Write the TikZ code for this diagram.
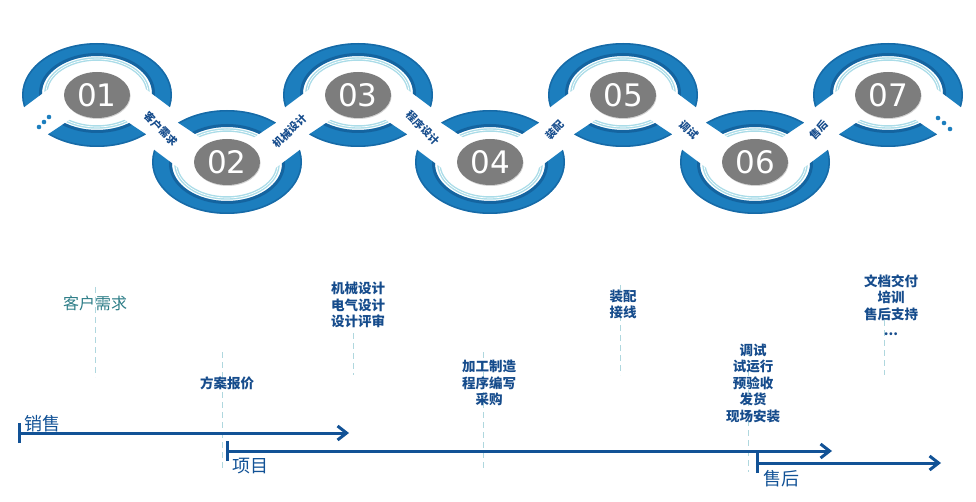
\documentclass[tikz,border=0pt]{standalone}
\usepackage{fontspec}
\setmainfont{DejaVu Sans}
\newfontfamily\cjk{Noto Sans CJK SC}
\newfontfamily\numfont{DejaVu Sans}
\usetikzlibrary{arrows.meta,shapes.geometric,shadows}
\definecolor{ringblue}{RGB}{28,126,190}
\definecolor{ringdark}{RGB}{12,70,125}
\definecolor{ringcyan}{RGB}{170,220,232}
\definecolor{numgray}{RGB}{125,125,125}
\definecolor{labelblue}{RGB}{22,76,140}
\definecolor{lineblue}{RGB}{18,82,150}
\definecolor{guidecol}{RGB}{175,215,222}
\definecolor{reqteal}{RGB}{45,125,135}
\newcommand{\ringpiece}{%
  \fill[ringblue,even odd rule] (0,0) ellipse[x radius=75,y radius=52] (0,-2) ellipse[x radius=55,y radius=37];
  \draw[ringdark,line width=3,opacity=.45] (0,-2) ellipse[x radius=56.5,y radius=38.5];
  \draw[ringdark,line width=1.5,opacity=.35] (0,0) ellipse[x radius=74.2,y radius=51.2];
  \draw[ringcyan,line width=3.5] (0,-2) ellipse[x radius=51,y radius=34];
  \draw[white,line width=.7] (0,-2) ellipse[x radius=51,y radius=34];}
\newcommand{\chainring}[3]{%
  \begin{scope}[shift={(#1,#2)},yscale=#3]
    \begin{scope}
      \clip (-110,40) -- (-30,-20) -- (30,-20) -- (110,40) -- (110,-70) -- (-110,-70) -- cycle;
      \ringpiece
    \end{scope}
    \begin{scope}
      \clip (-20,20) -- (20,20) -- (80,60) -- (-80,60) -- cycle;
      \ringpiece
    \end{scope}
  \end{scope}}
\begin{document}
\begin{tikzpicture}[x=1pt,y=-1pt,
  numdisc/.style={ellipse,fill=numgray,text=white,minimum width=66,minimum height=46,inner sep=0pt,
    drop shadow={shadow xshift=.6pt,shadow yshift=-1pt,opacity=.35},font=\numfont\fontsize{31}{31}\selectfont},
  bandlabel/.style={text=labelblue,inner sep=1pt,font=\cjk\bfseries\fontsize{10.5}{10.5}\selectfont},
  stagetxt/.style={text=labelblue,align=center,inner sep=1pt,font=\cjk\bfseries\fontsize{13.5}{16.5}\selectfont},
  reqtxt/.style={text=reqteal,inner sep=1pt,font=\cjk\fontsize{16}{16}\selectfont},
  phaselabel/.style={text=lineblue,inner sep=1pt,font=\cjk\fontsize{18}{18}\selectfont},
  guide/.style={guidecol,line width=1,dash pattern=on 6pt off 4pt},
  phase/.style={lineblue,line width=3,{Bar[width=20pt]}-{Straight Barb[length=9pt,width=14pt]}}]
\useasboundingbox (0,0) rectangle (976,502);

\chainring{97}{95}{1}
\chainring{227}{162}{-1}
\chainring{358}{95}{1}
\chainring{490}{162}{-1}
\chainring{623}{95}{1}
\chainring{755}{162}{-1}
\chainring{888}{95}{1}

\node[numdisc] (n1) at (97,95) {01};
\node[numdisc] (n2) at (227,162) {02};
\node[numdisc] (n3) at (358,95) {03};
\node[numdisc] (n4) at (490,162) {04};
\node[numdisc] (n5) at (623,95) {05};
\node[numdisc] (n6) at (755,162) {06};
\node[numdisc] (n7) at (888,95) {07};

\fill[ringblue] (39,127) circle[radius=2.3] (44,122) circle[radius=2.3] (49,117) circle[radius=2.3];
\fill[ringblue] (938,118) circle[radius=2.3] (944,123) circle[radius=2.3] (950,129) circle[radius=2.3];

\node[bandlabel,rotate=-45] (b1) at (161,129) {客户需求};
\node[bandlabel,rotate=45] (b2) at (290,131) {机械设计};
\node[bandlabel,rotate=-45] (b3) at (423,128) {程序设计};
\node[bandlabel,rotate=45] (b4) at (555,130) {装配};
\node[bandlabel,rotate=-45] (b5) at (689,130) {调试};
\node[bandlabel,rotate=45] (b6) at (819,130) {售后};

\draw[guide] (95,287) -- (95,377);
\draw[guide] (222,352) -- (222,470);
\draw[guide] (353,333) -- (353,375);
\draw[guide] (483,352) -- (483,470);
\draw[guide] (620,285) -- (620,375);
\draw[guide] (748,350) -- (748,472);
\draw[guide] (884,320) -- (884,375);

\node[reqtxt] (t1) at (95,303) {客户需求};
\node[stagetxt] (t2) at (227,383) {方案报价};
\node[stagetxt] (t3) at (358,305) {机械设计\\电气设计\\设计评审};
\node[stagetxt] (t4) at (489,383) {加工制造\\程序编写\\采购};
\node[stagetxt] (t5) at (623,304.5) {装配\\接线};
\node[stagetxt] (t6) at (753,383) {调试\\试运行\\预验收\\发货\\现场安装};
\node[stagetxt] (t7) at (891,305) {文档交付\\培训\\售后支持\\...};

\coordinate (s0) at (18,433);
\coordinate (s1) at (349,433);
\coordinate (p0) at (226,451);
\coordinate (p1) at (832,451);
\coordinate (a0) at (756,463);
\coordinate (a1) at (941,463);
\draw[phase] (s0) -- (s1);
\draw[phase] (p0) -- (p1);
\draw[phase] (a0) -- (a1);
\node[phaselabel] (sale) at (42,424) {销售};
\node[phaselabel] (proj) at (250,466) {项目};
\node[phaselabel] (after) at (781,479) {售后};
\end{tikzpicture}
\end{document}
